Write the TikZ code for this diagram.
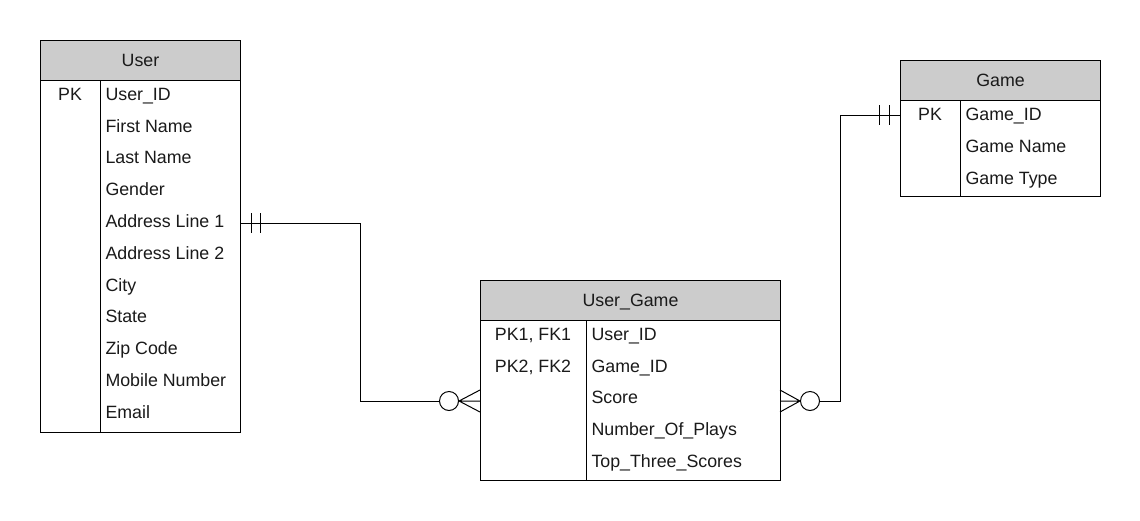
\documentclass[tikz,border=0pt]{standalone}
\usepackage{fontspec}
\setmainfont{Liberation Sans}
\definecolor{hdrgray}{HTML}{CCCCCC}
\definecolor{txtcol}{HTML}{1A1A1A}
\newcommand\tabfont{\fontsize{17.8}{20}\selectfont}
\begin{document}
\begin{tikzpicture}[x=1pt,y=-1pt, line width=1pt,
  txt/.style={font=\tabfont, inner sep=0pt, text height=12.7pt, text depth=0pt, text=txtcol},
  hdr/.style={txt, draw=black, fill=hdrgray, anchor=north west, minimum height=40pt},
  tbody/.style={draw=black, anchor=north west, inner sep=0pt},
  fld/.style={txt, anchor=west},
  keytxt/.style={txt, anchor=center},
  ring/.style={circle, draw=black, fill=white, minimum size=19pt, inner sep=0pt}]
\useasboundingbox[fill=white] (0,0) rectangle (1140,520);

% ---------- User ----------
\node[tbody, minimum width=200pt, minimum height=352pt] (ub) at (40,80) {};
\node[hdr, minimum width=200pt] (uh) at (40,40) {User};
\draw ([xshift=60pt]ub.north west) -- ([xshift=60pt]ub.south west);
\node[keytxt] (ukey) at (70,94) {PK};
\foreach \t [count=\i from 0] in {User\_ID,First Name,Last Name,Gender,Address Line 1,Address Line 2,City,State,Zip Code,Mobile Number,Email}
  \node[fld] (uf\i) at (105,{94+31.8*\i}) {\t};

% ---------- Game ----------
\node[tbody, minimum width=200pt, minimum height=96pt] (gb) at (900,100) {};
\node[hdr, minimum width=200pt] (gh) at (900,60) {Game};
\draw ([xshift=60pt]gb.north west) -- ([xshift=60pt]gb.south west);
\node[keytxt] (gkey) at (930,114) {PK};
\foreach \t [count=\i from 0] in {Game\_ID,Game Name,Game Type}
  \node[fld] (gf\i) at (965,{114+32*\i}) {\t};

% ---------- User_Game ----------
\node[tbody, minimum width=300pt, minimum height=160pt] (ugb) at (480,320) {};
\node[hdr, minimum width=300pt] (ugh) at (480,280) {User\_Game};
\draw ([xshift=106pt]ugb.north west) -- ([xshift=106pt]ugb.south west);
\node[keytxt] (ugk1) at (533,334) {PK1, FK1};
\node[keytxt] (ugk2) at (533,366) {PK2, FK2};
\foreach \t [count=\i from 0] in {User\_ID,Game\_ID,Score,Number\_Of\_Plays,Top\_Three\_Scores}
  \node[fld] (ugf\i) at (591,{334+31.8*\i}) {\t};

% ---------- connector User -- User_Game ----------
\coordinate (uconn) at (240,223);
\coordinate (k1) at (360,401);
\node[ring] (r1) at (449,401) {};
\coordinate (f1a) at (480,390);
\coordinate (f1b) at (480,401);
\coordinate (f1c) at (480,412);
\draw (uconn) -| (k1) -- (r1.west);
\draw (r1.east) -- (f1a) (r1.east) -- (f1b) (r1.east) -- (f1c);
\draw (251,213) -- (251,233) (260,213) -- (260,233);

% ---------- connector Game -- User_Game ----------
\coordinate (gconn) at (900,115);
\coordinate (k2) at (840,401);
\node[ring] (r2) at (810,401) {};
\coordinate (f2a) at (780,390);
\coordinate (f2b) at (780,401);
\coordinate (f2c) at (780,412);
\draw (gconn) -| (k2) -- (r2.east);
\draw (r2.west) -- (f2a) (r2.west) -- (f2b) (r2.west) -- (f2c);
\draw (879,105) -- (879,125) (889,105) -- (889,125);
\end{tikzpicture}
\end{document}
